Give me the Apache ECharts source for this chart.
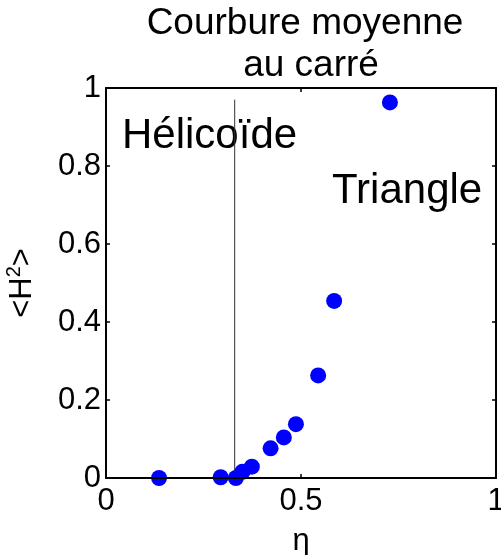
<!DOCTYPE html>
<html><head><meta charset="utf-8">
<script src="https://cdn.jsdelivr.net/npm/echarts@6/dist/echarts.min.js"></script>
<style>html,body{margin:0;padding:0;background:#fff}#c{width:501px;height:555px}</style>
</head><body><div id="c"></div>
<script>
const titleLines = ['Courbure moyenne', 'au carré'];
const xName = 'η';
const eta = [0.136, 0.294, 0.333, 0.350, 0.374, 0.422, 0.456, 0.487, 0.544, 0.585, 0.728];
const H2  = [0.0,   0.002, 0.0,   0.016, 0.029, 0.076, 0.104, 0.138, 0.263, 0.454, 0.963];
const boundaryX = [0.33, 0.33];
const boundaryY = [0, 0.97];
const annotations = ['Hélicoïde', 'Triangle'];

const FONT = '"Liberation Sans", Arial, sans-serif';
const chart = echarts.init(document.getElementById('c'), null, {renderer: 'canvas'});
const axisCommon = {
  type: 'value', min: 0, max: 1,
  splitLine: {show: false},
  axisLine: {show: true, onZero: false, lineStyle: {color: '#000', width: 2}},
  axisTick: {show: true, inside: true, length: 4, lineStyle: {color: '#000', width: 1.5}},
  z: 5
};
chart.setOption({
  animation: false,
  backgroundColor: '#fff',
  grid: {left: 106, right: 5, top: 88, bottom: 77, containLabel: false, outerBoundsMode: 'none'},
  xAxis: [
    Object.assign({}, axisCommon, {
      position: 'bottom', interval: 0.5,
      axisLabel: {fontFamily: FONT, fontSize: 31, color: '#000', margin: 8},
      name: xName, nameLocation: 'middle', nameGap: 48,
      nameTextStyle: {fontFamily: FONT, fontSize: 31, color: '#000'}
    }),
    Object.assign({}, axisCommon, {position: 'top', interval: 0.5, axisLabel: {show: false}})
  ],
  yAxis: [
    Object.assign({}, axisCommon, {
      position: 'left', interval: 0.2,
      axisLabel: {fontFamily: FONT, fontSize: 31, color: '#000', margin: 5},
      name: '<H{sup|2}>', nameLocation: 'middle', nameGap: 66, nameRotate: 90,
      nameTextStyle: {fontFamily: FONT, fontSize: 31, color: '#000',
        rich: {sup: {fontFamily: FONT, fontSize: 20, color: '#000', padding: [0, 0, 16, 0]}}}
    }),
    Object.assign({}, axisCommon, {position: 'right', interval: 0.2, axisLabel: {show: false}})
  ],
  series: [
    {
      type: 'line', xAxisIndex: 0, yAxisIndex: 0,
      data: boundaryX.map((x, i) => [x, boundaryY[i]]),
      symbol: 'none', lineStyle: {color: '#333', width: 1}, z: 1, silent: true
    },
    {
      type: 'scatter', xAxisIndex: 0, yAxisIndex: 0, clip: false,
      data: eta.map((x, i) => [x, H2[i]]),
      symbol: 'circle', symbolSize: 16,
      itemStyle: {color: '#0000ff', opacity: 1}, z: 2
    }
  ],
  graphic: [
    {type: 'text', x: 305, y: 5, style: {text: titleLines[0], font: '37px ' + FONT, fill: '#000', align: 'center', verticalAlign: 'top'}},
    {type: 'text', x: 311, y: 47, style: {text: titleLines[1], font: '37px ' + FONT, fill: '#000', align: 'center', verticalAlign: 'top'}},
    {type: 'text', x: 122, y: 136, style: {text: annotations[0], font: '42px ' + FONT, fill: '#000', verticalAlign: 'middle'}},
    {type: 'text', x: 332, y: 191, style: {text: annotations[1], font: '42px ' + FONT, fill: '#000', verticalAlign: 'middle'}}
  ]
});
</script></body></html>
